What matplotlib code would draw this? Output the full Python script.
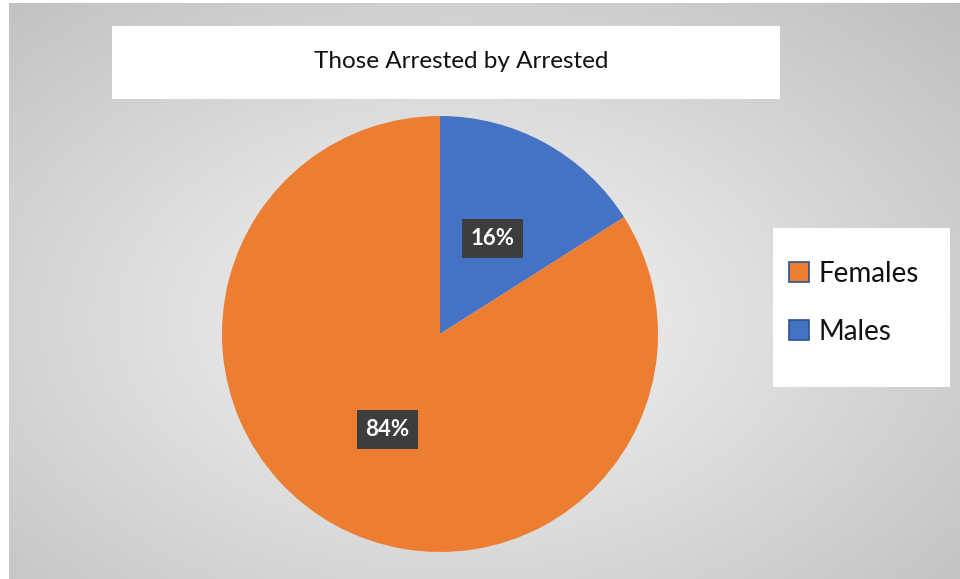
import numpy as np
import matplotlib
matplotlib.use("Agg")
import matplotlib.pyplot as plt
from matplotlib.patches import Rectangle, Patch

title = "Those Arrested by Arrested"
categories = ["Males", "Females"]
values = [16, 84]
colors = ["#4472C4", "#ED7D31"]

plt.rcParams['font.family'] = ['Lato', 'DejaVu Sans']

W, H = 960, 579
fig = plt.figure(figsize=(W / 100, H / 100), dpi=100)
fig.patch.set_facecolor("white")

# background radial gradient
bg = fig.add_axes([9 / W, 0, (W - 9) / W, (H - 3) / H])
yy, xx = np.mgrid[0:1:300j, 0:1:500j]
d = np.sqrt(((xx - 0.47) / 0.75) ** 2 + ((yy - 0.55) / 0.8) ** 2)
g = np.clip(0.965 - 0.22 * d, 0, 1)
img = np.dstack([g, g, g])
bg.imshow(img, aspect="auto", extent=[0, 1, 0, 1], interpolation="bilinear")
bg.set_axis_off()

# title box
fig.patches.append(Rectangle((112 / W, 1 - 99 / H), (780 - 112) / W, (99 - 26) / H,
                             transform=fig.transFigure, facecolor="white", edgecolor="none", zorder=1))
fig.text(461 / W, 1 - 61 / H, title, ha="center", va="center", fontsize=17.5, color="#111111", zorder=2)

# legend box
fig.patches.append(Rectangle((773 / W, 1 - 387 / H), (950 - 773) / W, (387 - 228) / H,
                             transform=fig.transFigure, facecolor="white", edgecolor="none", zorder=1))

# pie
cx, cy, r = 440, 334, 218
ax = fig.add_axes([(cx - r) / W, (H - cy - r) / H, 2 * r / W, 2 * r / H])
wedges, texts, autotexts = ax.pie(values, colors=colors, startangle=90, counterclock=False,
                                  autopct="%1.0f%%", pctdistance=0.5, radius=1,
                                  wedgeprops=dict(linewidth=0))
for t in autotexts:
    t.set_color("white")
    t.set_fontweight("bold")
    t.set_fontsize(16)
    t.set_bbox(dict(boxstyle="square,pad=0.4", facecolor="#3d3d3d", edgecolor="none"))
ax.set_xlim(-1, 1)
ax.set_ylim(-1, 1)
ax.set_aspect("equal")
ax.set_axis_off()

handles = [Patch(facecolor=colors[1], edgecolor="#2F528F", linewidth=1.2, label=categories[1]),
           Patch(facecolor=colors[0], edgecolor="#2F528F", linewidth=1.2, label=categories[0])]
leg = fig.legend(handles=handles, loc="center left", bbox_to_anchor=(789 / W, 1 - 303 / H),
                 frameon=False, fontsize=20, handlelength=0.72, handleheight=0.72,
                 handletextpad=0.35, labelspacing=1.15, borderpad=0, borderaxespad=0)
for t in leg.get_texts():
    t.set_color("#111111")

fig.savefig("out.png", dpi=100)
